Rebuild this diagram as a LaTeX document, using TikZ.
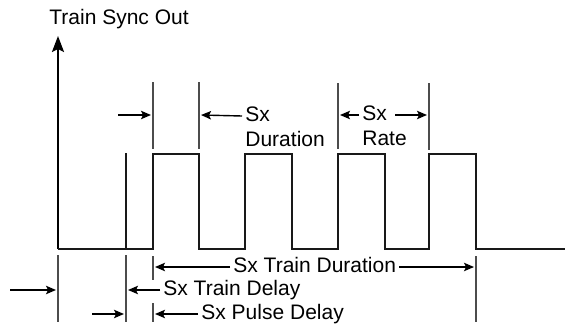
\documentclass[tikz,border=0pt]{standalone}
\usepackage{fontspec}
\setmainfont{Liberation Sans}
\usetikzlibrary{arrows.meta}
\begin{document}
\begin{tikzpicture}[
x=0.5pt,y=-0.5pt,
signal/.style={line width=1.35pt,black!90},
tick/.style={line width=0.55pt,black!70},
dimarrow/.style={line width=0.7pt,-{Stealth[length=5pt,width=4.2pt,inset=1pt]}},
lbl/.style={font=\fontsize{10.5}{12}\selectfont,inner xsep=1.5pt,inner ysep=0pt}
]
\useasboundingbox (0,0) rectangle (565,332);
\node[lbl,anchor=base west] (title) at (46,24) {Train Sync Out};
\coordinate (axisbot) at (58,249);
\coordinate (axistop) at (58,36);
\draw[line width=1.1pt,-{Stealth[length=8pt,width=6pt,inset=1.5pt]}] (axisbot) -- (axistop);
\draw[signal] (axisbot) -- (153,249) -- (153,154) -- (199,154) -- (199,249)
  -- (245,249) -- (245,154) -- (292,154) -- (292,249)
  -- (338,249) -- (338,154) -- (385,154) -- (385,249)
  -- (429,249) -- (429,154) -- (476,154) -- (476,249) -- (565,249);
\draw[signal] (126,249) -- (126,153);
\draw[tick] (153,82) -- (153,149);
\draw[tick] (199,82) -- (199,149);
\draw[tick] (338,83) -- (338,149);
\draw[tick] (429,83) -- (429,150);
\draw[tick] (58,255) -- (58,322);
\draw[tick] (126,255) -- (126,322);
\draw[tick] (153,256) -- (153,280);
\draw[tick] (153,303) -- (153,322);
\draw[tick] (476,256) -- (476,322);
\node[lbl,anchor=mid west] (dursx) at (242,116) {Sx};
\node[lbl,anchor=base west] (dur) at (242,146) {Duration};
\node[lbl,anchor=mid west] (ratesx) at (359,115) {Sx};
\node[lbl,anchor=base west] (rate) at (359,145) {Rate};
\coordinate (durstart) at (118,115);
\coordinate (ratestart) at (395,115);
\draw[dimarrow] (durstart) -- (151,115);
\draw[dimarrow] (dursx.mid west) -- (201,115);
\draw[dimarrow] (ratesx.mid west) -- (340,115);
\draw[dimarrow] (ratestart) -- (427,115);
\node[lbl,anchor=mid west] (traindur) at (230,267) {Sx Train Duration};
\node[lbl,anchor=mid west] (traindelay) at (160,290) {Sx Train Delay};
\node[lbl,anchor=mid west] (pulsedelay) at (198,314) {Sx Pulse Delay};
\coordinate (delaystart) at (10,290);
\coordinate (pulsestart) at (92,314);
\draw[dimarrow] (traindur.mid west) -- (155,267);
\draw[dimarrow] (traindur.mid east) -- (474,267);
\draw[dimarrow] (delaystart) -- (56,290);
\draw[dimarrow] (traindelay.mid west) -- (128,290);
\draw[dimarrow] (pulsestart) -- (124,314);
\draw[dimarrow] (pulsedelay.mid west) -- (155,314);
\end{tikzpicture}
\end{document}
